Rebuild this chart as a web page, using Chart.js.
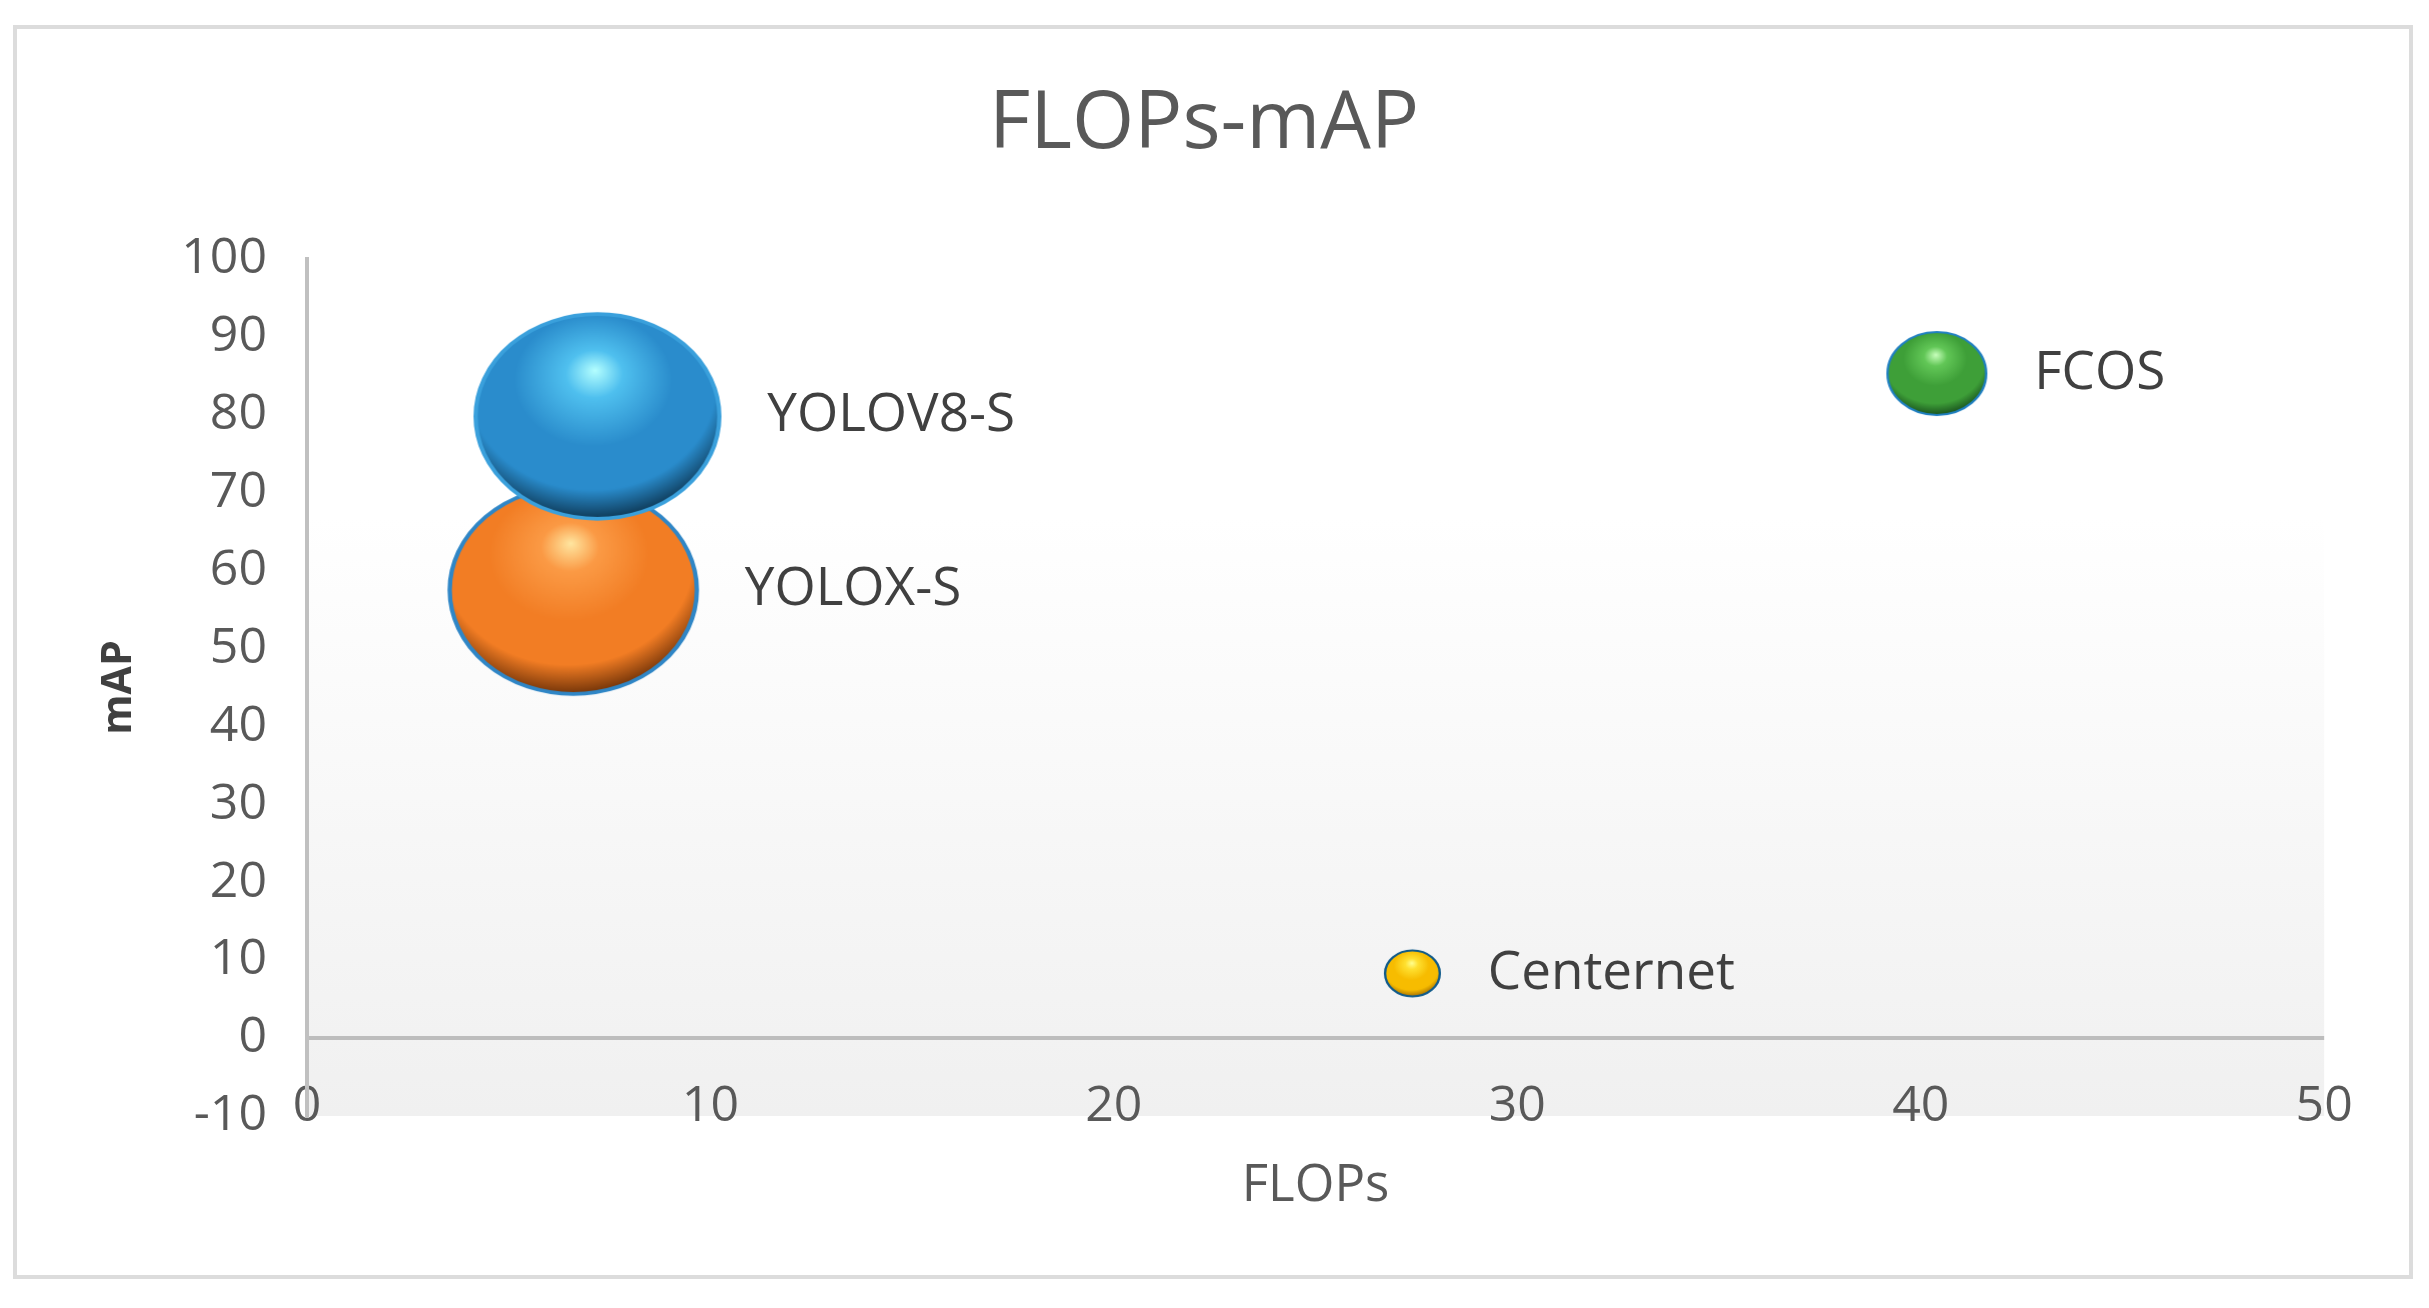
<!DOCTYPE html>
<html>
<head>
<meta charset="utf-8">
<title>FLOPs-mAP</title>
<script src="https://cdn.jsdelivr.net/npm/chart.js@4"></script>
<style>
    body { margin: 0; background: #ffffff; }
    #wrap { position: relative; width: 2429px; height: 1308px; }
    #frame {
        position: absolute; left: 13px; top: 25px; width: 2400px; height: 1254px;
        box-sizing: border-box; border: 4px solid #dcdcdc;
    }
    #bubbleChart { position: absolute; left: 0; top: 0; }
</style>
</head>
<body>
<div id="wrap">
    <div id="frame"></div>
    <canvas id="bubbleChart" width="2429" height="1308"></canvas>
</div>
<script>
// chart data
const models = ['YOLOV8-S', 'YOLOX-S', 'FCOS', 'Centernet'];
const flops = [7.2, 6.6, 40.4, 27.4];
const mapValues = [79.8, 57.5, 85.3, 8.3];
const bubbleSize = [10.5, 10.8, 1.72, 0.53];

// axis settings
const xMin = 0, xMax = 50, xStep = 10;
const yMin = -10, yMax = 100, yStep = 10;

// ball colours: highlight, light, base, shadow, rim
const ballColors = [
    ['#b4ffff', '#4fc0ef', '#2a8ccc', '#0a2c44', '#3aa0dc'],
    ['#ffe6a0', '#fb9a45', '#f27d24', '#5e2804', '#2f86c6'],
    ['#c8ffbc', '#62c757', '#3e9f38', '#14461a', '#1f7fc0'],
    ['#ffff90', '#ffe030', '#f7bc00', '#9a6400', '#0f5a8a']
];

const RADIUS_K = 31.6;   // px per sqrt(size)
const STRETCH = 1.19;    // balls are a bit wider than tall

function ballRadius(size) {
    return RADIUS_K * Math.sqrt(size);
}

// draw a shaded ball into a small canvas, used as point style
function makeBall(size, colors) {
    const ry = ballRadius(size);
    const c = document.createElement('canvas');
    c.width = Math.ceil(ry * STRETCH * 2 + 8);
    c.height = Math.ceil(ry * 2 + 8);
    const g = c.getContext('2d');
    g.translate(c.width / 2, c.height / 2);
    g.scale(STRETCH, 1);

    const grad = g.createRadialGradient(-0.02 * ry, -0.45 * ry, 0, -0.05 * ry, -0.25 * ry, 1.3 * ry);
    grad.addColorStop(0, colors[0]);
    grad.addColorStop(0.18, colors[1]);
    grad.addColorStop(0.5, colors[2]);
    grad.addColorStop(0.78, colors[2]);
    grad.addColorStop(1, colors[3]);
    g.beginPath();
    g.arc(0, 0, ry, 0, Math.PI * 2);
    g.fillStyle = grad;
    g.fill();

    g.lineWidth = Math.max(2, ry * 0.035);
    g.strokeStyle = colors[4];
    g.stroke();
    return c;
}

const balls = bubbleSize.map((s, i) => makeBall(s, ballColors[i]));

// plot area background
const plotBackground = {
    id: 'plotBackground',
    beforeDraw(chart) {
        const { ctx, chartArea } = chart;
        const grad = ctx.createLinearGradient(0, chartArea.top, 0, chartArea.bottom);
        grad.addColorStop(0, '#ffffff');
        grad.addColorStop(0.3, '#ffffff');
        grad.addColorStop(1, '#f0f0f0');
        ctx.save();
        ctx.fillStyle = grad;
        ctx.fillRect(chartArea.left, chartArea.top, chartArea.right - chartArea.left, chartArea.bottom - chartArea.top);
        ctx.restore();
    }
};

// name labels right of each ball
const ballLabels = {
    id: 'ballLabels',
    afterDatasetsDraw(chart) {
        const ctx = chart.ctx;
        ctx.save();
        ctx.font = '53px "Open Sans"';
        ctx.fillStyle = '#404040';
        ctx.textBaseline = 'middle';
        ctx.textAlign = 'left';
        chart.data.datasets.forEach((ds, i) => {
            const el = chart.getDatasetMeta(i).data[0];
            const rx = ballRadius(bubbleSize[i]) * STRETCH;
            ctx.fillText(ds.label, el.x + rx + 48, el.y);
        });
        ctx.restore();
    }
};

const datasets = models.map((name, i) => ({
    label: name,
    data: [{ x: flops[i], y: mapValues[i], r: ballRadius(bubbleSize[i]) }],
    pointStyle: balls[i],
    backgroundColor: ballColors[i][2]
}));

const ctx = document.getElementById('bubbleChart').getContext('2d');
new Chart(ctx, {
    type: 'bubble',
    data: { datasets: datasets },
    options: {
        responsive: false,
        animation: false,
        devicePixelRatio: 1,
        layout: {
            padding: { left: 83, right: 104, top: 0, bottom: 89 }
        },
        plugins: {
            legend: { display: false },
            tooltip: { enabled: false },
            title: {
                display: true,
                text: 'FLOPs-mAP',
                color: '#595959',
                font: { family: 'Open Sans', size: 80, weight: 'normal' },
                padding: { top: 77, bottom: 86 }
            }
        },
        scales: {
            x: {
                type: 'linear',
                min: xMin,
                max: xMax,
                grid: { display: false },
                border: { display: false },
                ticks: {
                    stepSize: xStep,
                    color: '#595959',
                    mirror: true,
                    padding: -21,
                    font: { family: 'Open Sans', size: 50 }
                },
                title: {
                    display: true,
                    text: 'FLOPs',
                    color: '#595959',
                    font: { family: 'Open Sans', size: 51 },
                    padding: { top: 0, bottom: 2 }
                },
                afterFit(scale) {
                    scale.height = 103;
                }
            },
            y: {
                type: 'linear',
                min: yMin,
                max: yMax,
                grid: {
                    drawTicks: false,
                    lineWidth: 4,
                    color: c => (c.tick && c.tick.value === 0 ? '#bdbdbd' : 'rgba(0,0,0,0)')
                },
                border: { display: true, color: '#c0c0c0', width: 4 },
                ticks: {
                    stepSize: yStep,
                    color: '#595959',
                    padding: 40,
                    font: { family: 'Open Sans', size: 50 }
                },
                title: {
                    display: true,
                    text: 'mAP',
                    color: '#404040',
                    font: { family: 'Open Sans', size: 41, weight: 'bold' },
                    padding: { top: 12, bottom: 0 }
                },
                afterFit(scale) {
                    scale.width = 224;
                }
            }
        }
    },
    plugins: [plotBackground, ballLabels]
});
</script>
</body>
</html>
